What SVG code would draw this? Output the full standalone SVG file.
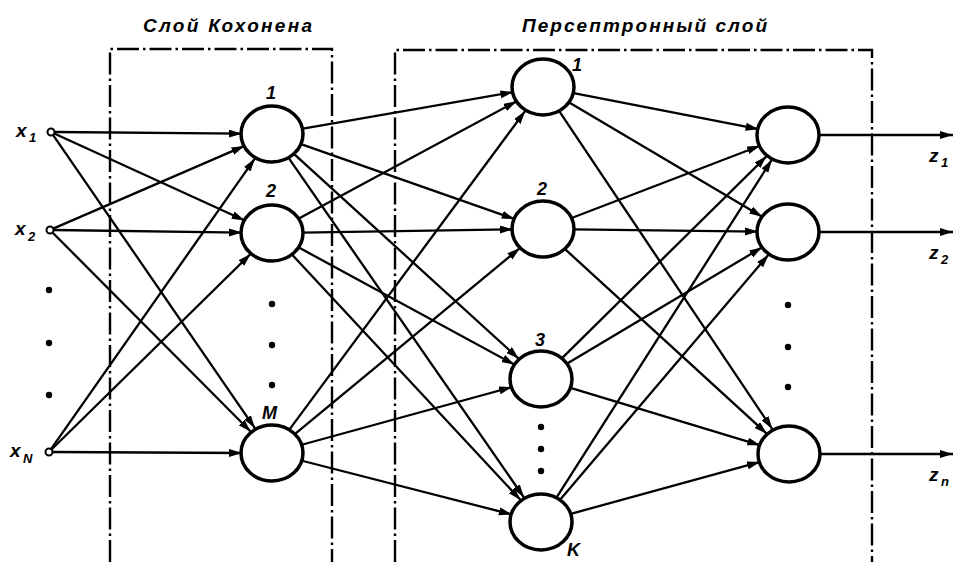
<svg xmlns="http://www.w3.org/2000/svg" width="953" height="562" viewBox="0 0 953 562">
<style>
.n{fill:#fff;stroke:#000;stroke-width:3.5}
.c line{stroke:#000;stroke-width:2.3;marker-end:url(#ah)}
.box{fill:none;stroke:#000;stroke-width:2.4;stroke-dasharray:22 4 2.5 4}
.t{font-family:"Liberation Sans",Arial,sans-serif;font-style:italic;font-weight:bold;font-size:19px;fill:#000}
.l{font-family:"Liberation Sans",Arial,sans-serif;font-style:italic;font-weight:bold;fill:#000}
.dot{fill:#000}
.in{fill:#fff;stroke:#000;stroke-width:2}
</style>
<defs>
<marker id="ah" markerUnits="userSpaceOnUse" markerWidth="14" markerHeight="9" refX="13" refY="4" orient="auto">
<path d="M0,0 L13,4 L0,8 z" fill="#000"/>
</marker>
</defs>
<rect width="953" height="562" fill="#fff"/>
<text class="t" x="143" y="32" textLength="169" lengthAdjust="spacing">Слой  Кохонена</text>
<text class="t" x="522" y="32" textLength="245" lengthAdjust="spacing">Персептронный  слой</text>
<path class="box" d="M110,562 L110,49 L332,49 L332,562"/>
<path class="box" d="M395,562 L395,50 L872,50 L872,562"/>
<g class="c">
<line x1="54.5" y1="132" x2="242" y2="133.7"/>
<line x1="54.2" y1="133.5" x2="244.7" y2="220.5"/>
<line x1="53" y1="134.9" x2="255" y2="428.3"/>
<line x1="53.2" y1="228.6" x2="244.5" y2="145.9"/>
<line x1="53.5" y1="230" x2="242" y2="232.6"/>
<line x1="52.5" y1="232.5" x2="250.8" y2="431.7"/>
<line x1="51" y1="449.1" x2="254.8" y2="158.6"/>
<line x1="51.5" y1="449.5" x2="250.6" y2="254"/>
<line x1="52.5" y1="452" x2="242" y2="453"/>
<line x1="301.6" y1="128.9" x2="513.4" y2="92.1"/>
<line x1="300.3" y1="143.9" x2="514.7" y2="219.1"/>
<line x1="294.2" y1="154.2" x2="518.8" y2="358.8"/>
<line x1="289.1" y1="158.7" x2="523.9" y2="497.3"/>
<line x1="298.4" y1="218.8" x2="516.6" y2="101.2"/>
<line x1="302" y1="232.6" x2="513" y2="229.4"/>
<line x1="298.4" y1="247.3" x2="514.6" y2="364.7"/>
<line x1="292.4" y1="255" x2="520.6" y2="500"/>
<line x1="289.9" y1="428.9" x2="525.1" y2="111.1"/>
<line x1="295.1" y1="433.9" x2="519.9" y2="248.1"/>
<line x1="300.9" y1="445" x2="512.1" y2="387"/>
<line x1="301.1" y1="460.5" x2="511.9" y2="514.5"/>
<line x1="572.4" y1="92.8" x2="758.6" y2="129.2"/>
<line x1="568.8" y1="102.3" x2="762.2" y2="216.7"/>
<line x1="559.7" y1="111.9" x2="772.3" y2="429.1"/>
<line x1="571" y1="218.3" x2="760" y2="145.7"/>
<line x1="573" y1="229.4" x2="758" y2="231.6"/>
<line x1="565.1" y1="249.2" x2="766.9" y2="433.8"/>
<line x1="562.3" y1="357.9" x2="766.7" y2="156.1"/>
<line x1="566.8" y1="363.7" x2="762.2" y2="247.3"/>
<line x1="569.7" y1="387.7" x2="760.3" y2="445.3"/>
<line x1="557.1" y1="496.7" x2="771.9" y2="159.7"/>
<line x1="560.5" y1="499.2" x2="768.5" y2="254.8"/>
<line x1="569.9" y1="514.1" x2="760.1" y2="461.9"/>
<line x1="819" y1="135" x2="953" y2="135"/>
<line x1="819" y1="232" x2="953" y2="232"/>
<line x1="820" y1="454" x2="953" y2="454"/>
</g>
<g id="x1"><circle class="in" cx="51" cy="132" r="3.5"/><text class="l" x="16" y="137" font-size="19">x</text><text class="l" x="29" y="142" font-size="13">1</text></g>
<g id="x2"><circle class="in" cx="50" cy="230" r="3.5"/><text class="l" x="15" y="235" font-size="19">x</text><text class="l" x="28" y="241" font-size="13">2</text></g>
<g id="xN"><circle class="in" cx="49" cy="452" r="3.5"/><text class="l" x="10" y="457" font-size="19">x</text><text class="l" x="23" y="463" font-size="13">N</text></g>
<g id="xdots"><circle class="dot" cx="49" cy="290" r="3.2"/><circle class="dot" cx="49" cy="343" r="3.2"/><circle class="dot" cx="49" cy="395" r="3.2"/></g>
<g id="k1"><ellipse class="n" cx="272" cy="134" rx="31" ry="28"/><text class="l" x="266" y="99" font-size="18">1</text></g>
<g id="k2"><ellipse class="n" cx="272" cy="233" rx="31" ry="28"/><text class="l" x="266" y="197" font-size="18">2</text></g>
<g id="kM"><ellipse class="n" cx="272" cy="453" rx="31" ry="28"/><text class="l" x="262" y="419" font-size="18">M</text></g>
<g id="kdots"><circle class="dot" cx="272" cy="304" r="3.2"/><circle class="dot" cx="272" cy="345" r="3.2"/><circle class="dot" cx="272" cy="385" r="3.2"/></g>
<g id="p1"><ellipse class="n" cx="543" cy="87" rx="31" ry="28"/><text class="l" x="572" y="71" font-size="18">1</text></g>
<g id="p2"><ellipse class="n" cx="543" cy="229" rx="31" ry="28"/><text class="l" x="537" y="195" font-size="18">2</text></g>
<g id="p3"><ellipse class="n" cx="541" cy="379" rx="31" ry="28"/><text class="l" x="535" y="346" font-size="18">3</text></g>
<g id="pK"><ellipse class="n" cx="541" cy="522" rx="31" ry="28"/><text class="l" x="567" y="556" font-size="18">K</text></g>
<g id="pdots"><circle class="dot" cx="541" cy="427" r="3.2"/><circle class="dot" cx="541" cy="449" r="3.2"/><circle class="dot" cx="541" cy="471" r="3.2"/></g>
<g id="o1"><ellipse class="n" cx="788" cy="135" rx="31" ry="28"/></g>
<g id="o2"><ellipse class="n" cx="788" cy="232" rx="31" ry="28"/></g>
<g id="on"><ellipse class="n" cx="789" cy="454" rx="31" ry="28"/></g>
<g id="odots"><circle class="dot" cx="788" cy="305" r="3.2"/><circle class="dot" cx="788" cy="347" r="3.2"/><circle class="dot" cx="788" cy="387" r="3.2"/></g>
<g id="z1"><text class="l" x="929" y="162" font-size="19">z</text><text class="l" x="941" y="167" font-size="13">1</text></g>
<g id="z2"><text class="l" x="929" y="259" font-size="19">z</text><text class="l" x="941" y="264" font-size="13">2</text></g>
<g id="zn"><text class="l" x="929" y="481" font-size="19">z</text><text class="l" x="941" y="486" font-size="13">n</text></g>
</svg>
